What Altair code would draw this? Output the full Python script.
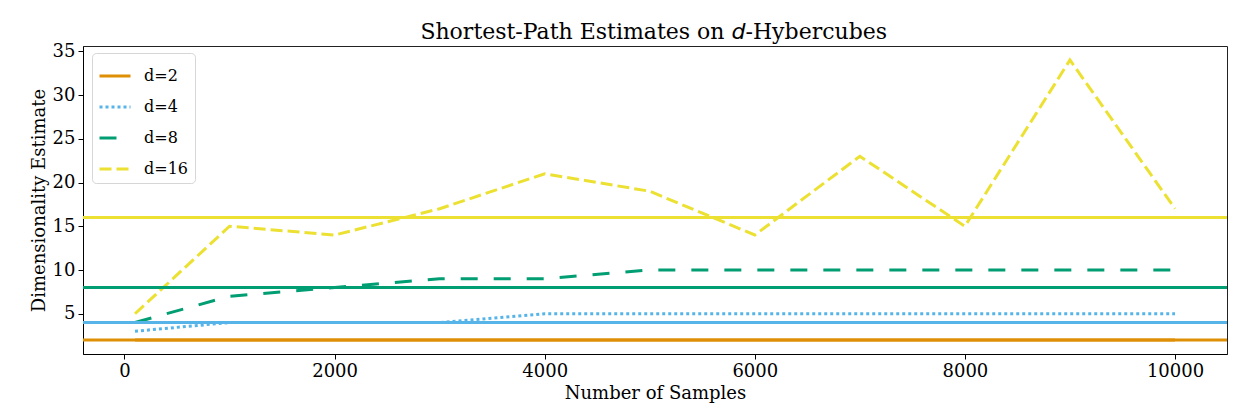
import altair as alt
import pandas as pd

# ---- data ----
samples = [100, 1000, 2000, 3000, 4000, 5000, 6000, 7000, 8000, 9000, 10000]
est_d2 = [2, 2, 2, 2, 2, 2, 2, 2, 2, 2, 2]
est_d4 = [3, 4, 4, 4, 5, 5, 5, 5, 5, 5, 5]
est_d8 = [4, 7, 8, 9, 9, 10, 10, 10, 10, 10, 10]
est_d16 = [5, 15, 14, 17, 21, 19, 14, 23, 15, 34, 17]

dim_labels = ["d=2", "d=4", "d=8", "d=16"]
true_dims = [2, 4, 8, 16]
colors = ["#DE8F05", "#56B4E9", "#029E73", "#ECE133"]
dashes = [[1, 0], [3, 3], [17, 16], [12, 5]]

x_ticks = [0, 2000, 4000, 6000, 8000, 10000]
y_ticks = [5, 10, 15, 20, 25, 30, 35]

title_parts = ["Shortest-Path Estimates on", "d", "-Hybercubes"]

# ---- tables ----
rows = []
for lab, series in zip(dim_labels, [est_d2, est_d4, est_d8, est_d16]):
    for s, v in zip(samples, series):
        rows.append({"samples": s, "estimate": v, "dim": lab})
lines_df = pd.DataFrame(rows)
rules_df = pd.DataFrame({"dim": dim_labels, "value": true_dims, "color": colors})

W, H = 1144, 308
FONT = "DejaVu Serif"

x_enc = alt.X(
    "samples:Q",
    scale=alt.Scale(domain=[-395, 10495], nice=False, zero=False),
    axis=alt.Axis(values=x_ticks, format="d", title="Number of Samples", grid=False),
)
y_enc = alt.Y(
    "estimate:Q",
    scale=alt.Scale(domain=[0.4, 35.6], nice=False, zero=False),
    axis=alt.Axis(values=y_ticks, title="Dimensionality Estimate", grid=False),
)

legend_opts = dict(
    title=None,
    orient="none",
    legendX=9,
    legendY=7,
    symbolType="stroke",
    symbolSize=961,
    symbolStrokeWidth=3,
    labelFont=FONT,
    labelFontSize=16,
    labelColor="black",
    labelOffset=12,
    rowPadding=6,
    padding=6,
    fillColor="white",
    strokeColor="#d6d6d6",
    cornerRadius=4,
)

lines = alt.Chart(lines_df).mark_line(strokeWidth=3, clip=True).encode(
    x=x_enc,
    y=y_enc,
    color=alt.Color(
        "dim:N",
        scale=alt.Scale(domain=dim_labels, range=colors),
        sort=dim_labels,
        legend=alt.Legend(**legend_opts),
    ),
    strokeDash=alt.StrokeDash(
        "dim:N",
        scale=alt.Scale(domain=dim_labels, range=dashes),
        sort=dim_labels,
        legend=alt.Legend(**legend_opts),
    ),
    detail="dim:N",
)

rules = alt.Chart(rules_df).mark_rule(strokeWidth=3).encode(
    y=alt.Y("value:Q"),
    color=alt.Color("color:N", scale=None),
)

dx = 655.5  # centre of the italic "d" in plot coordinates
t1 = alt.Chart(pd.DataFrame({"t": [title_parts[0]]})).mark_text(
    font=FONT, fontSize=22, align="right", baseline="alphabetic", color="black"
).encode(x=alt.value(dx - 14), y=alt.value(-7), text="t:N")
t2 = alt.Chart(pd.DataFrame({"t": [title_parts[1]]})).mark_text(
    font="DejaVu Sans", fontSize=22, fontStyle="italic", align="center",
    baseline="alphabetic", color="black"
).encode(x=alt.value(dx), y=alt.value(-7), text="t:N")
t3 = alt.Chart(pd.DataFrame({"t": [title_parts[2]]})).mark_text(
    font=FONT, fontSize=22, align="left", baseline="alphabetic", color="black"
).encode(x=alt.value(dx + 7), y=alt.value(-7), text="t:N")

chart = (
    alt.layer(lines, rules, t1, t2, t3)
    .properties(
        width=W,
        height=H,
        autosize=alt.AutoSizeParams(type="none"),
        padding={"left": 75, "top": 38, "right": 9, "bottom": 50},
        background="white",
    )
    .configure_view(stroke="#222222", strokeWidth=1)
    .configure_axis(
        labelFont=FONT,
        labelFontSize=18,
        labelColor="black",
        titleFont=FONT,
        titleFontSize=18,
        titleFontWeight="normal",
        titleColor="black",
        tickColor="black",
        tickSize=5,
        tickWidth=1,
        domainColor="black",
        domainWidth=1,
        labelPadding=3,
        titlePadding=4,
    )
)

chart.save("out.html", embed_options={"renderer": "svg", "actions": False})
